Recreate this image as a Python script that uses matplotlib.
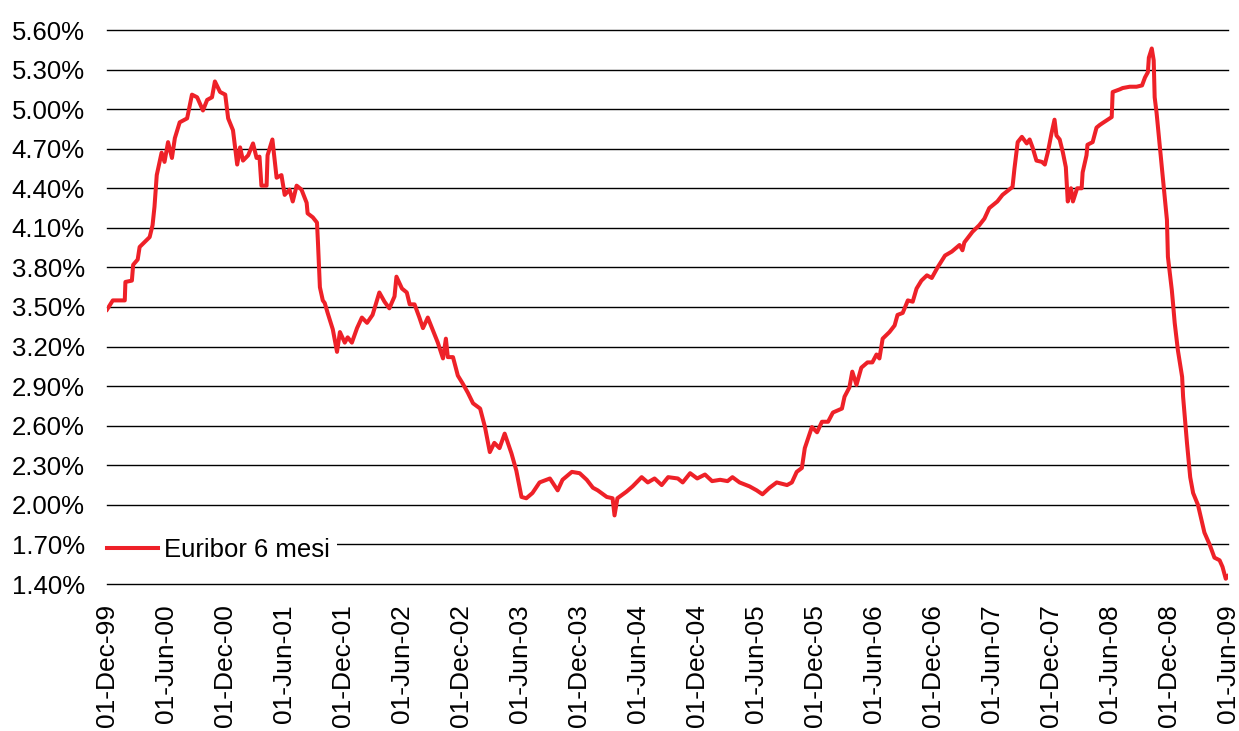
import numpy as np
import matplotlib.pyplot as plt
import matplotlib.dates as mdates
from matplotlib.ticker import FuncFormatter

plt.rcParams['font.family'] = ['Liberation Sans', 'DejaVu Sans']

# Euribor 6 mesi (%)
dates = [
    '1999-12-01', '1999-12-19', '2000-01-25', '2000-01-27', '2000-02-16', '2000-02-20',
    '2000-03-05', '2000-03-11', '2000-04-11', '2000-04-20', '2000-04-26', '2000-05-03',
    '2000-05-18', '2000-05-27', '2000-06-07', '2000-06-19', '2000-06-28', '2000-07-13',
    '2000-08-05', '2000-08-20', '2000-09-05', '2000-09-23', '2000-10-06', '2000-10-21',
    '2000-10-30', '2000-11-15', '2000-12-01', '2000-12-10', '2000-12-25', '2001-01-07',
    '2001-01-16', '2001-01-25', '2001-02-10', '2001-02-25', '2001-03-08', '2001-03-17',
    '2001-03-23', '2001-04-08', '2001-04-11', '2001-04-26', '2001-05-09', '2001-05-24',
    '2001-06-03', '2001-06-18', '2001-06-28', '2001-07-10', '2001-07-25', '2001-08-10',
    '2001-08-13', '2001-08-29', '2001-09-11', '2001-09-14', '2001-09-20', '2001-09-29',
    '2001-10-05', '2001-10-14', '2001-10-30', '2001-11-12', '2001-11-21', '2001-12-06',
    '2001-12-15', '2001-12-28', '2002-01-13', '2002-01-28', '2002-02-13', '2002-03-02',
    '2002-03-23', '2002-04-08', '2002-04-23', '2002-05-09', '2002-05-15', '2002-06-01',
    '2002-06-16', '2002-06-25', '2002-07-10', '2002-07-25', '2002-08-05', '2002-08-20',
    '2002-09-02', '2002-09-20', '2002-10-06', '2002-10-15', '2002-10-21', '2002-11-06',
    '2002-11-21', '2002-12-06', '2002-12-22', '2003-01-07', '2003-01-29', '2003-02-13',
    '2003-02-28', '2003-03-14', '2003-03-30', '2003-04-15', '2003-05-06', '2003-05-21',
    '2003-06-06', '2003-06-21', '2003-07-10', '2003-08-01', '2003-09-02', '2003-09-26',
    '2003-10-11', '2003-11-09', '2003-12-03', '2003-12-25', '2004-01-13', '2004-01-28',
    '2004-02-25', '2004-03-14', '2004-03-20', '2004-03-29', '2004-04-26', '2004-05-15',
    '2004-06-12', '2004-07-01', '2004-07-22', '2004-08-13', '2004-09-02', '2004-10-02',
    '2004-10-17', '2004-11-09', '2004-12-01', '2004-12-25', '2005-01-16', '2005-02-10',
    '2005-03-05', '2005-03-20', '2005-04-11', '2005-05-12', '2005-06-03', '2005-06-21',
    '2005-07-13', '2005-08-04', '2005-09-05', '2005-09-20', '2005-10-05', '2005-10-21',
    '2005-10-30', '2005-11-21', '2005-12-07', '2005-12-22', '2006-01-10', '2006-01-25',
    '2006-02-22', '2006-03-02', '2006-03-17', '2006-03-26', '2006-04-08', '2006-04-23',
    '2006-05-12', '2006-05-27', '2006-06-09', '2006-06-18', '2006-06-28', '2006-07-19',
    '2006-08-04', '2006-08-13', '2006-08-29', '2006-09-14', '2006-09-29', '2006-10-11',
    '2006-10-26', '2006-11-12', '2006-11-27', '2006-12-15', '2007-01-07', '2007-01-28',
    '2007-02-21', '2007-03-02', '2007-03-08', '2007-04-02', '2007-04-23', '2007-05-09',
    '2007-05-24', '2007-06-18', '2007-07-04', '2007-07-25', '2007-08-04', '2007-08-10',
    '2007-08-20', '2007-09-02', '2007-09-17', '2007-09-26', '2007-10-05', '2007-10-17',
    '2007-11-03', '2007-11-12', '2007-11-21', '2007-12-03', '2007-12-12', '2007-12-18',
    '2007-12-28', '2008-01-07', '2008-01-16', '2008-01-22', '2008-02-01', '2008-02-07',
    '2008-02-20', '2008-03-05', '2008-03-08', '2008-03-20', '2008-03-23', '2008-04-08',
    '2008-04-20', '2008-04-30', '2008-05-09', '2008-06-06', '2008-06-09', '2008-07-01',
    '2008-07-10', '2008-08-01', '2008-08-22', '2008-09-08', '2008-09-17', '2008-09-26',
    '2008-09-29', '2008-10-08', '2008-10-14', '2008-10-17', '2008-10-23', '2008-10-30',
    '2008-11-09', '2008-11-18', '2008-11-24', '2008-11-27', '2008-12-09', '2008-12-12',
    '2008-12-18', '2008-12-28', '2009-01-10', '2009-01-13', '2009-01-19', '2009-01-25',
    '2009-02-04', '2009-02-13', '2009-02-28', '2009-03-11', '2009-03-20', '2009-04-05',
    '2009-04-20', '2009-05-06', '2009-05-15', '2009-05-25', '2009-06-01',
]
euribor_6m = [
    3.48, 3.55, 3.55, 3.69, 3.70, 3.82,
    3.86, 3.955, 4.03, 4.12, 4.26, 4.50,
    4.67, 4.60, 4.75, 4.63, 4.78, 4.90,
    4.93, 5.11, 5.09, 4.99, 5.07, 5.09,
    5.21, 5.13, 5.11, 4.93, 4.84, 4.58,
    4.71, 4.61, 4.65, 4.74, 4.63, 4.64,
    4.42, 4.42, 4.65, 4.77, 4.48, 4.50,
    4.35, 4.39, 4.30, 4.42, 4.39, 4.29,
    4.21, 4.18, 4.14, 3.99, 3.65, 3.55,
    3.53, 3.455, 3.33, 3.16, 3.31, 3.23,
    3.27, 3.23, 3.34, 3.42, 3.38, 3.44,
    3.61, 3.54, 3.49, 3.58, 3.73, 3.64,
    3.61, 3.52, 3.52, 3.42, 3.34, 3.42,
    3.34, 3.23, 3.11, 3.26, 3.12, 3.12,
    2.98, 2.92, 2.85, 2.77, 2.73, 2.59,
    2.40, 2.47, 2.43, 2.54, 2.39, 2.26,
    2.06, 2.05, 2.09, 2.17, 2.20, 2.11,
    2.19, 2.25, 2.24, 2.19, 2.13, 2.11,
    2.06, 2.05, 1.92, 2.05, 2.10, 2.14,
    2.21, 2.17, 2.20, 2.15, 2.21, 2.20,
    2.17, 2.24, 2.20, 2.23, 2.18, 2.19,
    2.18, 2.21, 2.17, 2.14, 2.11, 2.08,
    2.13, 2.17, 2.15, 2.17, 2.25, 2.28,
    2.43, 2.59, 2.55, 2.63, 2.63, 2.70,
    2.73, 2.82, 2.89, 3.01, 2.91, 3.04,
    3.08, 3.08, 3.14, 3.11, 3.26, 3.31,
    3.36, 3.44, 3.455, 3.55, 3.54, 3.64,
    3.70, 3.74, 3.72, 3.80, 3.89, 3.92,
    3.97, 3.93, 3.99, 4.07, 4.12, 4.17,
    4.25, 4.30, 4.35, 4.39, 4.41, 4.55,
    4.75, 4.79, 4.74, 4.77, 4.71, 4.61,
    4.60, 4.58, 4.67, 4.82, 4.92, 4.80,
    4.77, 4.67, 4.56, 4.30, 4.40, 4.30,
    4.40, 4.40, 4.52, 4.65, 4.73, 4.75,
    4.86, 4.88, 4.895, 4.94, 5.13, 5.15,
    5.16, 5.17, 5.17, 5.18, 5.24, 5.28,
    5.39, 5.46, 5.37, 5.09, 4.97, 4.79,
    4.54, 4.31, 4.16, 3.88, 3.63, 3.55,
    3.38, 3.17, 2.97, 2.82, 2.645, 2.47,
    2.21, 2.09, 2.00, 1.885, 1.79, 1.70,
    1.60, 1.58, 1.53, 1.44, 1.46,
]

y_ticks = [1.40, 1.70, 2.00, 2.30, 2.60, 2.90, 3.20, 3.50, 3.80, 4.10,
           4.40, 4.70, 5.00, 5.30, 5.60]
x_ticks = ['1999-12-01', '2000-06-01', '2000-12-01', '2001-06-01', '2001-12-01',
           '2002-06-01', '2002-12-01', '2003-06-01', '2003-12-01', '2004-06-01',
           '2004-12-01', '2005-06-01', '2005-12-01', '2006-06-01', '2006-12-01',
           '2007-06-01', '2007-12-01', '2008-06-01', '2008-12-01', '2009-06-01']

x = np.array(dates, dtype='datetime64[D]')
xt = np.array(x_ticks, dtype='datetime64[D]')

fig = plt.figure(figsize=(12.39, 7.31), dpi=100)
ax = fig.add_axes([107 / 1239, 1 - 584 / 731, 1121 / 1239, 554 / 731])

for yv in y_ticks:
    ax.axhline(yv, color='black', linewidth=1.0, zorder=1, clip_on=False)

ax.plot(x, euribor_6m, color='#EE2128', linewidth=2.9, solid_joinstyle='round',
        label='Euribor 6 mesi', zorder=3)

ax.set_ylim(1.40, 5.60)
ax.set_xlim(xt[0], xt[-1])
ax.set_yticks(y_ticks)
ax.yaxis.set_major_formatter(FuncFormatter(lambda v, p: f'{v:.2f}%'))
ax.set_xticks(xt)
ax.xaxis.set_major_formatter(mdates.DateFormatter('%d-%b-%y'))

for s in ax.spines.values():
    s.set_visible(False)
ax.tick_params(axis='both', length=0, colors='black')
ax.tick_params(axis='y', pad=16, labelsize=18.5)
ax.tick_params(axis='x', pad=14.5, labelrotation=90, labelsize=19)

leg = ax.legend(loc='center left', bbox_to_anchor=(-0.0069, 0.0614), fontsize=18.5,
                frameon=True, facecolor='white', edgecolor='none', framealpha=1,
                fancybox=False, borderpad=0.3, borderaxespad=0,
                handlelength=1.98, handletextpad=0.23)
leg.set_zorder(5)

fig.savefig('out.png', dpi=100)
